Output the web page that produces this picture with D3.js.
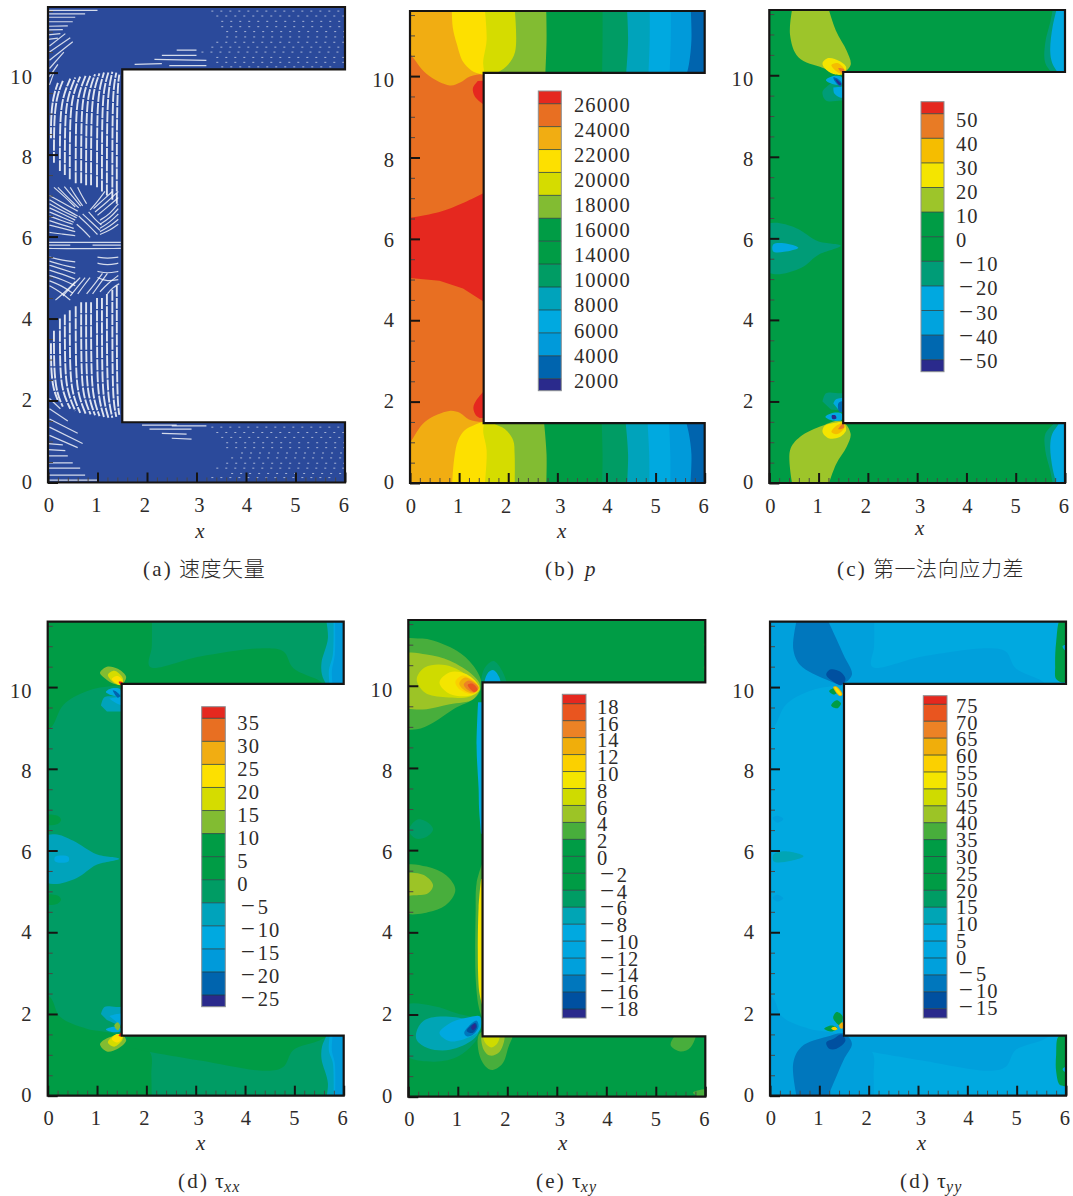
<!DOCTYPE html>
<html>
<head>
<meta charset="utf-8">
<script src="https://cdn.jsdelivr.net/npm/d3@7"></script>
<style>
body { margin: 0; background: #fff; }
svg { display: block; }
text { font-family: "Liberation Serif", serif; fill: #2e2b2a; }
</style>
</head>
<body>
<svg id="chart" width="1073" height="1196"></svg>
<script>
// channel wall, x and y in channel units
const channel = [[0,0],[6,0],[6,1.47],[1.5,1.47],[1.5,10.08],[6,10.08],[6,11.6],[0,11.6]]

const xMajor = [0,1,2,3,4,5,6]
const xMinor = [.2,.4,.6,.8,1.2,1.4,1.6,1.8,2.2,2.4,2.6,2.8,3.2,3.4,3.6,3.8,4.2,4.4,4.6,4.8,5.2,5.4,5.6,5.8]
const yMajor = [0,2,4,6,8,10]
const yMinor = [.5,1,1.5,2.5,3,3.5,4.5,5,5.5,6.5,7,7.5,8.5,9,9.5,10.5,11,11.5]
// the printed tick numbers do not sit exactly on their ticks
const xLabelNudge = [1,-1,-2,3,1,0,-1]
const yLabelNudge = [-1,-.5,0,1.5,2.5,4]

// colour bars
const pLevels = [26000,24000,22000,20000,18000,16000,14000,10000,8000,6000,4000,2000]
const n1Levels = [50,40,30,20,10,0,-10,-20,-30,-40,-50]
const txxLevels = [35,30,25,20,15,10,5,0,-5,-10,-15,-20,-25]
const txyLevels = [18,16,14,12,10,8,6,4,2,0,-2,-4,-6,-8,-10,-12,-14,-16,-18]
const tyyLevels = [75,70,65,60,55,50,45,40,35,30,25,20,15,10,5,0,-5,-10,-15]

const pColors = ["#e5281f","#e86f22","#f1ad12","#fde000","#d5dc00","#82bc32","#009c45","#009c45","#009c64","#00a3bb","#00a9e0","#009ada","#0064ae","#2a2a8c"]
const n1Colors = ["#e5281f","#e87b25","#f5bd00","#f4e500","#9dc52a","#009c45","#009c45","#009c77","#00a8e0","#00a3de","#0068b0","#2a2a8c"]
const txyColors = ["#e5281f","#e9551f","#ec8225","#f0ae0b","#fbd000","#f4e500","#cfdb00","#9cc426","#48ae3c","#009c45","#009c45","#009c45","#009c64","#00a5b5","#00a9e0","#00a6df","#00a0dc","#0077bd","#0050a0","#2a2a8c"]

// sides that close a contour outside the channel
const topArm = [[6.3,9.9],[6.3,11.9]]
const lowArm = [[6.3,1.7],[6.3,-.3]]

// contour bands: [colour index, boundary, closing points]
const pBands = [
 [0,[[-.1,6.5],[.6,6.66],[1.08,6.88],[1.7,7.25]],[[1.7,4.3],[1.08,4.78],[.6,4.97],[-.1,5.05]]],
 [0,[[1.38,9.88],[1.28,9.7],[1.32,9.5],[1.5,9.3]],[[1.7,9.3],[1.7,9.9]]],
 [0,[[1.5,2.25],[1.36,2.05],[1.29,1.85],[1.35,1.65],[1.42,1.6]],[[1.7,1.6],[1.7,2.25]]],
 [2,[[-.1,10.65],[0,10.55],[.34,10.05],[.81,9.77],[1.02,9.84],[1.22,9.99],[1.5,10.05],[1.8,10]],[[6.3,9.9],[6.3,11.9],[-.1,11.9]]],
 [3,[[.85,11.8],[.87,11.2],[.95,10.8],[1.08,10.35],[1.25,10.14],[1.47,10.04],[1.7,10]],topArm],
 [4,[[1.51,11.8],[1.56,10.9],[1.49,10.3],[1.55,10.02],[1.7,9.95]],topArm],
 [5,[[2.12,11.8],[2.14,10.6],[1.97,10.25],[1.7,10.03],[1.6,9.95]],topArm],
 [6,[[2.77,11.8],[2.78,10.9],[2.75,9.9]],topArm],
 [8,[[3.92,11.8],[3.92,10.9],[3.91,9.9]],topArm],
 [9,[[4.41,11.8],[4.44,10.9],[4.39,9.9]],topArm],
 [10,[[4.88,11.8],[4.88,10.9],[4.85,9.9]],topArm],
 [11,[[5.31,11.8],[5.31,10.9],[5.28,9.9]],topArm],
 [12,[[5.71,11.8],[5.73,10.9],[5.68,10.3],[5.6,9.9]],topArm],
 [2,[[-.1,.9],[0,1],[.3,1.5],[.8,1.77],[1.02,1.72],[1.2,1.56],[1.5,1.5],[1.8,1.6]],[[6.3,1.7],[6.3,-.3],[-.1,-.3]]],
 [3,[[.85,-.2],[.9,.6],[.98,1.05],[1.12,1.3],[1.3,1.42],[1.47,1.5],[1.7,1.6]],lowArm],
 [4,[[1.51,-.2],[1.56,.8],[1.49,1.28],[1.52,1.48],[1.6,1.6]],lowArm],
 [5,[[2.13,-.2],[2.13,.7],[2.1,1.05],[1.93,1.33],[1.7,1.47],[1.6,1.6]],lowArm],
 [6,[[2.77,-.2],[2.78,.7],[2.72,1.6]],lowArm],
 [8,[[3.91,-.2],[3.92,.7],[3.9,1.6]],lowArm],
 [9,[[4.41,-.2],[4.44,.7],[4.38,1.6]],lowArm],
 [10,[[4.87,-.2],[4.87,.7],[4.83,1.6]],lowArm],
 [11,[[5.3,-.2],[5.3,.7],[5.27,1.6]],lowArm],
 [12,[[5.7,-.2],[5.73,.7],[5.68,1.2],[5.6,1.6]],lowArm]
]

const n1Bands = [
 [4,[[.49,11.8],[.42,11],[.59,10.44],[1.09,10.18],[1.47,10.05],[1.65,10.25],[1.57,10.6],[1.35,11.1],[1.16,11.8]],[]],
 [3,[[1.08,10.3],[1.2,10.42],[1.42,10.35],[1.56,10.2],[1.5,10.03],[1.3,10.03],[1.12,10.18]]],
 [2,[[1.26,10.25],[1.38,10.3],[1.52,10.15],[1.5,10.03],[1.38,10.08]]],
 [1,[[1.4,10.17],[1.52,10.14],[1.5,10.04]]],
 [7,[[1.25,9.8],[1.08,9.6],[1.15,9.38],[1.45,9.38],[1.7,9.4]],[[1.7,9.9]]],
 [8,[[1.3,9.7],[1.32,9.55],[1.45,9.45],[1.7,9.5]],[[1.7,9.75]]],
 [8,[[1.15,9.88],[1.3,9.98],[1.47,9.95],[1.47,9.78],[1.3,9.78]]],
 [10,[[1.3,9.95],[1.38,9.92],[1.47,9.8],[1.44,9.72],[1.33,9.85]]],
 [11,[[1.34,9.9],[1.4,9.86],[1.46,9.78],[1.42,9.76]]],
 [7,[[5.78,11.8],[5.7,11.3],[5.6,10.8],[5.6,10.3],[5.78,10],[5.85,9.9]],topArm],
 [8,[[5.87,11.8],[5.75,11.2],[5.7,10.6],[5.74,10.3],[5.88,10],[5.9,9.9]],topArm],
 [7,[[-.1,6.3],[.1,6.38],[.55,6.25],[.99,5.93],[1.45,5.82],[1,5.6],[.65,5.28],[.12,5.12],[-.1,5.25]]],
 [8,[[.08,5.85],[.3,5.88],[.59,5.77],[.3,5.67],[.08,5.68]]],
 [4,[[.49,-.2],[.42,.8],[.62,1.13],[1.09,1.41],[1.47,1.52],[1.65,1.21],[1.57,.89],[1.35,.45],[1.16,-.2]],[]],
 [3,[[1.08,1.25],[1.2,1.1],[1.42,1.12],[1.56,1.3],[1.5,1.48],[1.3,1.47],[1.12,1.4]]],
 [2,[[1.26,1.25],[1.38,1.2],[1.52,1.35],[1.5,1.47],[1.38,1.42]]],
 [1,[[1.4,1.32],[1.52,1.36],[1.5,1.46]]],
 [7,[[1.08,2],[1.15,2.2],[1.45,2.2],[1.7,2.2]],[[1.7,1.75],[1.25,1.8]]],
 [8,[[1.3,1.95],[1.35,2.05],[1.7,2.1]],[[1.7,1.75],[1.4,1.8]]],
 [8,[[1.14,1.62],[1.3,1.72],[1.47,1.7],[1.47,1.55],[1.3,1.53]]],
 [10,[[1.4,1.95],[1.48,2],[1.5,1.75],[1.42,1.75]]],
 [11,[[1.27,1.66],[1.34,1.66],[1.36,1.58],[1.28,1.57]]],
 [7,[[5.78,-.2],[5.7,.3],[5.6,.8],[5.6,1.2],[5.78,1.47],[5.85,1.6]],lowArm],
 [8,[[5.87,-.2],[5.75,.35],[5.7,.9],[5.74,1.2],[5.88,1.47],[5.9,1.6]],lowArm]
]

const txxBands = [
 [6,[[-.2,9],[.05,9],[.32,9.57],[.79,9.9],[1.26,10.02],[1.48,10.02],[3,10],[5.6,10],[5.52,10.14],[4.98,10.46],[4.78,10.87],[4.44,10.95],[3.09,10.75],[2.07,10.5],[2.11,11],[2.11,11.8]],[[-.2,11.8]]],
 [6,[[-.2,2.5],[.05,2.41],[.25,1.93],[.79,1.64],[1.33,1.52],[1.48,1.4],[2.07,1.07],[2.1,.5],[2.11,-.2]],[[-.2,-.2]]],
 [6,[[2.07,1.07],[3.09,.86],[4.44,.61],[4.78,.71],[4.98,1.12],[5.52,1.36],[5.7,1.5],[5.7,1.6]],[[1.6,1.6],[1.6,1.2]]],
 [5,[[1.06,10.35],[1.2,10.5],[1.42,10.45],[1.59,10.25],[1.5,10.06],[1.3,10.1],[1.12,10.25]]],
 [4,[[1.22,10.3],[1.35,10.4],[1.52,10.22],[1.5,10.05],[1.35,10.1]]],
 [3,[[1.3,10.2],[1.42,10.27],[1.52,10.15],[1.48,10.05],[1.38,10.1]]],
 [0,[[1.44,10.13],[1.52,10.12],[1.48,10.05]]],
 [9,[[1.08,9.55],[1.15,9.75],[1.4,9.78],[1.7,9.9]],[[1.7,9.4],[1.2,9.4]]],
 [10,[[1.25,9.72],[1.4,9.6],[1.7,9.5]],[[1.7,9.8]]],
 [10,[[1.18,9.88],[1.3,9.97],[1.47,9.95],[1.47,9.78],[1.3,9.8]]],
 [12,[[1.32,9.92],[1.4,9.88],[1.47,9.78],[1.42,9.74],[1.35,9.84]]],
 [9,[[5.62,11.8],[5.68,11.2],[5.55,10.6],[5.56,10.3],[5.65,10.05],[5.7,9.9]],topArm],
 [10,[[5.79,11.8],[5.78,10.8],[5.7,10.4],[5.72,10]],topArm],
 [11,[[5.82,11.8],[5.82,10.8],[5.76,10.4],[5.78,10]],topArm],
 [9,[[-.1,6.3],[.15,6.4],[.52,6.24],[.99,5.91],[1.45,5.8],[.99,5.65],[.59,5.33],[.11,5.18],[-.1,5.3]]],
 [10,[[.15,5.85],[.42,5.85],[.42,5.73],[.15,5.73]]],
 [7,[[-.1,6.85],[.2,6.85],[.27,6.75],[.2,6.65],[-.1,6.65]]],
 [7,[[-.1,4.9],[.2,4.9],[.27,4.8],[.2,4.7],[-.1,4.7]]],
 [5,[[1.06,1.25],[1.2,1.08],[1.42,1.15],[1.59,1.35],[1.5,1.5],[1.3,1.45],[1.12,1.35]]],
 [4,[[1.22,1.3],[1.35,1.2],[1.52,1.38],[1.5,1.5],[1.35,1.48]]],
 [3,[[1.3,1.38],[1.42,1.3],[1.52,1.45],[1.48,1.5],[1.38,1.5]]],
 [0,[[1.44,1.46],[1.52,1.47],[1.48,1.54]]],
 [9,[[1.08,2.0],[1.15,2.17],[1.4,2.17],[1.7,2.2]],[[1.7,1.72],[1.45,1.72],[1.2,1.85]]],
 [10,[[1.25,1.95],[1.4,2],[1.7,2.05]],[[1.7,1.7],[1.45,1.75]]],
 [10,[[1.18,1.62],[1.3,1.68],[1.47,1.66],[1.47,1.58],[1.3,1.56]]],
 [5,[[1.35,1.72],[1.42,1.8],[1.47,1.7],[1.42,1.6]]],
 [9,[[5.62,-.2],[5.68,.3],[5.55,.9],[5.56,1.2],[5.65,1.47],[5.7,1.6]],lowArm],
 [10,[[5.79,-.2],[5.78,.8],[5.7,1.1],[5.72,1.5]],lowArm],
 [11,[[5.82,-.2],[5.82,.8],[5.76,1.1],[5.78,1.5]],lowArm]
]

const txyBands = [
 [8,[[-.1,11.1],[.2,11.15],[.44,11.12],[.98,10.85],[1.31,10.49],[1.48,10.05],[1.38,9.74],[.91,9.43],[.5,9.1],[.17,8.94],[-.1,9]]],
 [7,[[-.1,10.75],[.37,10.76],[.84,10.61],[1.31,10.25],[1.45,10],[1.31,9.67],[.84,9.55],[.37,9.43],[.1,9.43],[-.1,9.5]]],
 [6,[[.17,10.16],[.34,10.45],[.77,10.5],[1.25,10.2],[1.45,9.92],[1.25,9.74],[.75,9.72],[.34,9.83]]],
 [5,[[.63,10.08],[.84,10.33],[1.18,10.28],[1.43,9.96],[1.31,9.78],[.84,9.8]]],
 [4,[[.95,10.1],[1.1,10.25],[1.25,10.18],[1.43,9.97],[1.3,9.8],[1.05,9.9]]],
 [3,[[1.03,10.05],[1.15,10.2],[1.42,9.97],[1.33,9.82],[1.15,9.88]]],
 [2,[[1.12,10.03],[1.22,10.13],[1.42,9.95],[1.34,9.84],[1.2,9.9]]],
 [1,[[1.2,10.02],[1.3,10.05],[1.4,9.9],[1.33,9.85]]],
 [12,[[1.5,10],[1.53,10.4],[1.72,10.6],[1.9,10.35],[1.97,10]]],
 [14,[[1.55,10],[1.6,10.3],[1.72,10.38],[1.84,10.2],[1.85,10]]],
 [14,[[1.41,9.6],[1.38,8.5],[1.42,7.5],[1.43,7],[1.47,6.4]],[[1.7,6.4],[1.7,9.6]]],
 [12,[[.03,6.55],[.2,6.75],[.42,6.65],[.5,6.5],[.38,6.33],[.15,6.28],[.03,6.42]]],
 [8,[[-.1,5.6],[.37,5.6],[.77,5.38],[.95,5.04],[.81,4.72],[.5,4.52],[-.1,4.5]]],
 [7,[[-.1,5.4],[.3,5.4],[.5,5.15],[.4,4.95],[.1,4.9],[-.1,4.9]]],
 [8,[[1.5,5.7],[1.38,5.2],[1.36,4.5],[1.36,2.9],[1.42,2.2],[1.48,1.95]],[[1.7,1.9],[1.7,5.7]]],
 [5,[[1.47,5.3],[1.42,4.6],[1.41,3],[1.44,2.5],[1.5,2.2]],[[1.7,2.2],[1.7,5.3]]],
 [12,[[-.1,2.2],[.5,2.21],[.98,2.03],[1.38,1.87],[1.45,1.55],[1.04,1],[.5,.85],[-.1,1.05]]],
 [13,[[.17,1.6],[.34,1.87],[.77,1.95],[1.25,1.83],[1.42,1.59],[1.31,1.39],[.84,1.14],[.4,1.18],[.17,1.38]]],
 [14,[[.63,1.55],[.84,1.79],[1.25,1.94],[1.45,1.95],[1.45,1.63],[1.25,1.46],[.84,1.35]]],
 [17,[[1.13,1.55],[1.25,1.75],[1.38,1.85],[1.42,1.7],[1.3,1.5],[1.18,1.47]]],
 [18,[[1.18,1.6],[1.28,1.75],[1.36,1.8],[1.39,1.7],[1.3,1.55]]],
 [19,[[1.27,1.68],[1.34,1.78],[1.37,1.7],[1.31,1.62]]],
 [8,[[1.45,1.55],[1.42,1.1],[1.55,.75],[1.7,.65],[1.9,.8],[2.02,1.2],[2.1,1.55]]],
 [7,[[1.5,1.55],[1.52,1.15],[1.65,1],[1.85,1.1],[1.93,1.55]]],
 [6,[[1.52,1.55],[1.56,1.3],[1.68,1.2],[1.8,1.3],[1.84,1.55]]],
 [8,[[5.3,1.25],[5.5,1.1],[5.7,1.2],[5.8,1.55],[5.45,1.55]]],
 [8,[[5.75,.1],[6.1,.17],[6.1,-.1]]],
 [8,[[5.97,11],[6.1,11.1],[6.1,10.9]]],
 [8,[[5.97,10.45],[6.1,10.6],[6.1,10.2]]]
]

const tyyBands = [
 [16,[[-.2,9],[.05,9],[.32,9.57],[.79,9.9],[1.26,10.02],[1.48,10.02],[3,10],[5.6,10],[5.52,10.14],[4.98,10.46],[4.78,10.87],[4.44,10.95],[3.09,10.75],[2.07,10.5],[2.11,11],[2.11,11.8]],[[-.2,11.8]]],
 [16,[[-.2,2.5],[.05,2.41],[.25,1.93],[.79,1.64],[1.33,1.52],[1.48,1.4],[2.07,1.07],[2.1,.5],[2.11,-.2]],[[-.2,-.2]]],
 [16,[[2.07,1.07],[3.09,.86],[4.44,.61],[4.78,.71],[4.98,1.12],[5.52,1.36],[5.7,1.5],[5.7,1.6]],[[1.6,1.6],[1.6,1.2]]],
 [17,[[.57,11.8],[.47,10.95],[.61,10.54],[1.15,10.18],[1.45,10.07],[1.66,10.3],[1.49,10.79],[1.11,11.8]],[]],
 [18,[[1.14,10.3],[1.22,10.43],[1.42,10.38],[1.53,10.2],[1.45,10.05],[1.3,10.12]]],
 [17,[[.57,-.2],[.47,.79],[.64,1.2],[1.15,1.44],[1.49,1.52],[1.66,1.28],[1.49,.87],[1.11,-.2]],[]],
 [18,[[1.14,1.3],[1.2,1.15],[1.35,1.15],[1.53,1.35],[1.45,1.5],[1.3,1.4]]],
 [10,[[1.2,9.9],[1.3,9.97],[1.38,9.9],[1.3,9.82]]],
 [10,[[1.24,9.55],[1.35,9.68],[1.44,9.6],[1.36,9.48]]],
 [3,[[1.28,10.0],[1.34,10.02],[1.47,9.82],[1.41,9.78]]],
 [5,[[1.3,9.99],[1.33,10],[1.45,9.82],[1.42,9.8]]],
 [10,[[5.9,11.7],[5.8,11.1],[5.78,10.5],[5.8,10.2],[5.97,10.12],[6.1,10.5],[6.1,11.7]]],
 [14,[[5.93,11],[5.99,11.03],[6.05,10.96],[5.99,10.9]]],
 [10,[[5.85,1.45],[5.8,1],[5.8,.6],[5.88,.26],[6.05,.26],[6.1,.7],[6.05,1.45]]],
 [14,[[5.93,.65],[5.99,.7],[6.05,.65],[5.99,.58]]],
 [13,[[.07,5.9],[.3,5.98],[.68,5.86],[.3,5.72],[.07,5.74]]],
 [16,[[.05,6.8],[.15,6.85],[.27,6.77],[.15,6.68]]],
 [16,[[.05,4.85],[.15,4.92],[.27,4.83],[.15,4.75]]],
 [10,[[1.28,1.9],[1.35,2.05],[1.47,1.95],[1.42,1.72]]],
 [10,[[1.1,1.64],[1.25,1.72],[1.37,1.65],[1.25,1.57]]],
 [4,[[1.24,1.65],[1.31,1.69],[1.37,1.63],[1.3,1.6]]],
 [3,[[1.4,1.72],[1.47,1.8],[1.49,1.66],[1.44,1.64]]]
]

// white gaps between the velocity arrows
const gapsUpper = [
 [[.06,8.4],[.06,8.9],[.1,9.4],[.2,9.75]],
 [[.12,7.8],[.12,8.8],[.17,9.4],[.3,9.8]],
 [[.24,7.6],[.24,8.8],[.29,9.4],[.45,9.85]],
 [[.34,7.5],[.34,8.8],[.39,9.4],[.55,9.88]],
 [[.44,7.4],[.44,8.8],[.49,9.45],[.65,9.9]],
 [[.56,7.3],[.56,8.8],[.6,9.45],[.76,9.92]],
 [[.67,7.3],[.67,8.8],[.71,9.5],[.86,9.94]],
 [[.77,7.25],[.77,8.8],[.81,9.5],[.95,9.96]],
 [[.87,7.25],[.87,8.8],[.91,9.55],[1.04,9.98]],
 [[.99,7.2],[.99,8.8],[1.02,9.55],[1.13,10]],
 [[1.09,7.1],[1.09,8.8],[1.12,9.6],[1.22,10]],
 [[1.19,7],[1.19,8.8],[1.22,9.6],[1.3,10.02]],
 [[1.3,6.9],[1.3,8.8],[1.32,9.65],[1.38,10]],
 [[1.39,6.8],[1.39,8.8],[1.41,9.7],[1.44,9.95]]
]
const gapsLower = [
 [[.06,3.4],[.06,2.8],[.1,2.3],[.2,2]],
 [[.12,3.7],[.12,2.8],[.17,2.2],[.3,1.85]],
 [[.24,4],[.24,2.8],[.29,2.2],[.45,1.8]],
 [[.34,4.1],[.34,2.8],[.39,2.2],[.55,1.75]],
 [[.44,4.2],[.44,2.8],[.49,2.15],[.65,1.7]],
 [[.56,4.3],[.56,2.8],[.6,2.15],[.76,1.68]],
 [[.67,4.4],[.67,2.8],[.71,2.1],[.86,1.66]],
 [[.77,4.4],[.77,2.8],[.81,2.1],[.95,1.64]],
 [[.87,4.4],[.87,2.8],[.91,2.05],[1.04,1.62]],
 [[.99,4.5],[.99,2.8],[1.02,2.05],[1.13,1.6]],
 [[1.09,4.5],[1.09,2.8],[1.12,2],[1.22,1.58]],
 [[1.19,4.6],[1.19,2.8],[1.22,2],[1.3,1.58]],
 [[1.3,4.7],[1.3,2.8],[1.32,1.95],[1.38,1.6]],
 [[1.39,4.8],[1.39,2.8],[1.41,1.9],[1.44,1.65]]
]
const gapsCentre = [
 [[0,5.86],[.6,5.86],[1.47,5.86]], [[0,5.71],[.6,5.7],[1.47,5.71]], [[0,5.79],[.45,5.79]], [[.9,5.79],[1.47,5.79]],
 [[.03,7],[.3,6.82],[.6,6.62]], [[.03,6.9],[.3,6.7],[.6,6.5]], [[.03,6.8],[.3,6.62],[.58,6.46]], [[.03,6.7],[.3,6.55],[.55,6.4]],
 [[.03,6.6],[.3,6.46],[.52,6.35]], [[.03,6.5],[.3,6.38],[.5,6.3]], [[.03,6.39],[.3,6.28],[.52,6.2]],
 [[.03,6.28],[.3,6.2],[.55,6.12]], [[.03,6.1],[.3,6.06],[.55,6.02]], [[.12,7.2],[.33,6.98],[.55,6.72]], [[.2,7.2],[.4,6.95],[.62,6.7]],
 [[.33,7.22],[.48,7],[.66,6.74]], [[.45,7.2],[.55,7],[.7,6.75]], [[.6,7.2],[.68,7],[.78,6.8]],
 [[1.42,6.8],[1.25,6.55],[1.05,6.4]], [[1.42,6.68],[1.25,6.45],[1.05,6.3]], [[1.42,6.55],[1.25,6.35],[1.05,6.2]], [[1.42,6.42],[1.25,6.25],[1.05,6.12]],
 [[1.42,6.3],[1.25,6.15],[1.05,6.05]], [[1.42,6.95],[1.2,6.72],[1,6.52]], [[1.42,7.1],[1.2,6.85],[.95,6.6]], [[1.15,7.1],[1,6.85],[.85,6.65]], [[1.3,7.1],[1.1,6.88],[.92,6.68]],
 [[.62,6.5],[.8,6.3],[1,6.05]], [[.7,6.55],[.88,6.35],[1.05,6.15]], [[.58,6.3],[.72,6.15],[.85,5.98]], [[.82,6.6],[.95,6.42],[1.08,6.28]],
 [[.03,5.5],[.3,5.42],[.55,5.38]], [[.03,5.4],[.3,5.3],[.55,5.24]], [[.03,5.3],[.3,5.2],[.55,5.1]], [[.03,5.18],[.3,5.08],[.55,4.96]], [[.03,5.05],[.3,4.95],[.55,4.8]],
 [[.03,4.92],[.28,4.8],[.5,4.62]], [[.03,4.8],[.25,4.65],[.45,4.45]], [[.15,4.45],[.35,4.65],[.55,4.9]], [[.3,4.55],[.45,4.75],[.65,5]], [[.45,4.55],[.6,4.78],[.75,5]], [[.6,4.6],[.72,4.8],[.85,5]],
 [[1.42,5.5],[1.2,5.46],[1,5.5]], [[1.42,5.35],[1.2,5.3],[1,5.35]], [[1.42,5.15],[1.2,5.1],[1,5.15]], [[1.42,4.95],[1.2,4.9],[1,5]],
 [[1.05,4.65],[1.2,4.85],[1.42,5.05]], [[.9,4.6],[1.05,4.85],[1.2,5.1]], [[1.2,4.6],[1.3,4.75],[1.44,4.85]], [[.78,4.6],[.95,4.85],[1.1,5.1]]
]
const gapsArms = [
 [[0,11.52],[1,11.52]], [[0,11.43],[.75,11.43]], [[0,11.35],[.55,11.35]], [[0,11.24],[.5,11.24]],
 [[0,11.13],[.4,11.14]], [[0,11.04],[.3,11.05]], [[0,10.92],[.25,10.95]], [[0,10.81],[.2,10.84]],
 [[.03,10.65],[.35,10.95]], [[.03,10.5],[.45,10.85]], [[.03,10.3],[.5,10.75]], [[.03,10.1],[.32,10.5]], [[.03,9.9],[.2,10.2]],
 [[.03,9.7],[.12,10]],
 [[1.75,10.2],[2.3,10.22]], [[2.15,10.32],[3.2,10.3]], [[2.3,10.42],[3,10.42]], [[2.6,10.55],[3,10.55]], [[2.45,10.17],[3.2,10.17]],
 [[0,.06],[1,.06]], [[0,.18],[.75,.18]], [[0,.35],[.65,.35]], [[0,.48],[.5,.48]], [[0,.65],[.4,.65]], [[0,.8],[.35,.78]],
 [[0,.95],[.3,.92]], [[.03,1.15],[.6,.85]], [[.03,1.35],[.7,.95]], [[.03,1.55],[.6,1.2]], [[.03,1.8],[.4,1.5]], [[.03,2.05],[.25,1.8]],
 [[1.9,1.4],[2.6,1.4]], [[2.05,1.3],[2.9,1.3]], [[2.3,1.2],[2.8,1.18]], [[2.5,1.08],[2.9,1.06]], [[2.5,1.38],[3.2,1.38]]
]
// rows of arrow tips left white in the two arms: [y, x from, x to]
const dotRows = [
 [11.5,3.3,6],[11.38,3.4,6],[11.25,3.5,6],[11.12,3.5,6],[11,3.6,6],[10.87,3.6,6],[10.74,3.4,6],[10.62,3.3,6],[10.5,3.1,6],[10.37,3.4,6],[10.25,3.4,6],[10.14,3.5,5.8],
 [1.35,3.3,6],[1.22,3.4,6],[1.1,3.5,6],[.97,3.6,6],[.85,3.6,6],[.72,3.9,6],[.6,3.7,6],[.47,3.6,6],[.35,3.4,6],[.22,3.7,6],[.12,3.3,5.8]
]

const panels = [
 {box:[48,345,7,482.5], legend:null, xlab:[3.07,533], cap:[143,570], tag:"(a)", zh:"速度矢量"},
 {box:[410,704.7,11,483], base:1, colors:pColors, bands:pBands, levels:pLevels,
  legend:{bar:[538.3,561.3,91,390.7], edge:[103.7,378.7], lab:[105,381], x:[574,574,574]}, xlab:[3.09,533], cap:[545,570], tag:"(b)", sym:"p"},
 {box:[769.3,1065,10,483], base:5, colors:n1Colors, bands:n1Bands, levels:n1Levels,
  legend:{bar:[921,944,101.7,371.7], edge:[113.7,359.7], lab:[120,361], x:[956,959,976]}, xlab:[3.05,530], cap:[837,570], tag:"(c)", zh:"第一法向应力差"},
 {box:[47.7,343.7,621.7,1095.7], base:8, colors:pColors, bands:txxBands, levels:txxLevels,
  legend:{bar:[201.7,225.3,706.7,1006.7], edge:[718.3,995], lab:[723,999], x:[237.3,240.7,257.7]}, xlab:[3.1,1145], cap:[178,1182], tag:"(d)", tau:"xx"},
 {box:[408.3,705.3,620,1096.7], base:10, colors:txyColors, bands:txyBands, levels:txyLevels,
  legend:{bar:[562.3,586,694.3,1018], edge:[703.7,1009], lab:[707,1009.3], x:[597,600,616.7]}, xlab:[3.12,1145], cap:[536,1182], tag:"(e)", tau:"xy"},
 {box:[770,1066,621.7,1095.7], base:14, colors:txyColors, bands:tyyBands, levels:tyyLevels,
  legend:{bar:[923.3,947,695.7,1018], edge:[704.3,1008.7], lab:[706,1008.3], x:[956,958.7,976]}, xlab:[3.07,1145], cap:[900,1182], tag:"(d)", tau:"yy"}
]

const svg = d3.select("#chart")

const drawPanel = (p, i) => {
  const [x0, x6, yTop, y0] = p.box
  const x = d3.scaleLinear().domain([0, 6]).range([x0, x6])
  const y = d3.scaleLinear().domain([0, 11.6]).range([y0, yTop])
  const g = svg.append("g")

  const wall = d3.line().x(d => x(d[0])).y(d => y(d[1])).curve(d3.curveLinearClosed)
  const edge = d3.line().x(d => x(d[0])).y(d => y(d[1])).curve(d3.curveCatmullRom.alpha(.5))
  const blob = d3.line().x(d => x(d[0])).y(d => y(d[1])).curve(d3.curveCatmullRomClosed.alpha(.5))

  svg.append("clipPath").attr("id", "wall" + i).append("path").attr("d", wall(channel))
  const field = g.append("g").attr("clip-path", "url(#wall" + i + ")")

  if (p.bands) {
    field.append("path").attr("d", wall(channel)).attr("fill", p.colors[p.base])
    field.selectAll("path.band")
      .data(p.bands)
      .enter().append("path")
      .attr("class", "band")
      .attr("fill", d => p.colors[d[0]])
      .attr("d", d => {
        if (!d[2]) return blob(d[1])
        return edge(d[1]) + d[2].map(c => "L" + x(c[0]) + "," + y(c[1])).join("") + "Z"
      })
  } else {
    field.append("path").attr("d", wall(channel)).attr("fill", "#2b4a9b")
    const gaps = field.append("g").attr("fill", "none").attr("stroke", "#fff")
    const arcs = d3.line().x(d => x(d[0])).y(d => y(d[1])).curve(d3.curveBasis)
    gaps.selectAll("path.column")
      .data(gapsUpper.concat(gapsLower))
      .enter().append("path")
      .attr("class", "column")
      .attr("d", arcs)
      .attr("stroke-width", 1.9)
      .attr("stroke-dasharray", "11 1.2")
      .attr("opacity", .85)
    gaps.selectAll("path.fan")
      .data(gapsCentre.concat(gapsArms))
      .enter().append("path")
      .attr("class", "fan")
      .attr("d", arcs)
      .attr("stroke-width", 1.2)
      .attr("opacity", .8)
    gaps.selectAll("line")
      .data(dotRows)
      .enter().append("line")
      .attr("x1", d => x(d[1])).attr("x2", d => x(d[2]))
      .attr("y1", d => y(d[0])).attr("y2", d => y(d[0]))
      .attr("stroke-width", .9)
      .attr("stroke-dasharray", "2 7")
      .attr("opacity", .65)
  }

  // ticks point into the field
  const axisMajor = (ax) => {
    ax.select(".domain").remove()
    ax.selectAll("line").attr("stroke", "#161413").attr("stroke-width", 2)
    ax.selectAll("text").attr("font-size", 20.5).attr("letter-spacing", 1.1)
  }
  const axisMinor = (ax) => {
    ax.select(".domain").remove()
    ax.selectAll("text").remove()
    ax.selectAll("line").attr("stroke", "#4a4745").attr("stroke-width", 1)
  }
  g.append("g").attr("transform", "translate(0," + y0 + ")")
    .call(d3.axisBottom(x).tickValues(xMinor).tickSize(-5)).call(axisMinor)
  g.append("g").attr("transform", "translate(" + x0 + ",0)")
    .call(d3.axisLeft(y).tickValues(yMinor).tickSize(-5)).call(axisMinor)
  g.append("g").attr("transform", "translate(0," + y0 + ")")
    .call(d3.axisBottom(x).tickValues(xMajor).tickSize(-10).tickPadding(15).tickFormat(d3.format("d"))).call(axisMajor)
    .selectAll("text").attr("dx", (d, j) => xLabelNudge[j])
  g.append("g").attr("transform", "translate(" + x0 + ",0)")
    .call(d3.axisLeft(y).tickValues(yMajor).tickSize(-10).tickPadding(15).tickFormat(d3.format("d"))).call(axisMajor)
    .selectAll("text").attr("transform", (d, j) => "translate(0," + yLabelNudge[j] + ")")

  g.append("path").attr("d", wall(channel))
    .attr("fill", "none").attr("stroke", "#161413").attr("stroke-width", 2.2)

  g.append("text").text("x")
    .attr("x", x(p.xlab[0])).attr("y", p.xlab[1] + 5)
    .attr("text-anchor", "middle").attr("font-style", "italic").attr("font-size", 21)

  // caption
  const cap = g.append("text").attr("x", p.cap[0]).attr("y", p.cap[1] + 6).attr("font-size", 21)
  cap.append("tspan").text(p.tag).attr("letter-spacing", 2.2)
  if (p.zh) cap.append("tspan").text(p.zh).attr("dx", 6)
    .attr("font-family", "Noto Sans CJK SC").attr("font-size", 21).attr("font-weight", 300).attr("letter-spacing", .6)
  if (p.sym) cap.append("tspan").text(p.sym).attr("dx", 9).attr("font-style", "italic").attr("font-size", 21)
  if (p.tau) {
    cap.append("tspan").text("τ").attr("dx", 6).attr("font-size", 22)
    cap.append("tspan").text(p.tau).attr("dy", 4).attr("font-style", "italic").attr("font-size", 16).attr("letter-spacing", 1.2)
  }

  if (p.legend) drawLegend(g, p)
}

const drawLegend = (g, p) => {
  const l = p.legend
  const [bx0, bx1, bTop, bBottom] = l.bar
  const edges = p.colors.slice(1).map((c, j) => j)
  const edgeY = d3.scalePoint().domain(edges).range(l.edge)
  const labelY = d3.scalePoint().domain(p.levels).range(l.lab)
  const stops = [bTop].concat(edges.map(edgeY), bBottom)

  g.selectAll("rect.step")
    .data(p.colors)
    .enter().append("rect")
    .attr("class", "step")
    .attr("x", bx0).attr("width", bx1 - bx0)
    .attr("y", (d, j) => stops[j])
    .attr("height", (d, j) => stops[j + 1] - stops[j])
    .attr("fill", d => d)
  g.selectAll("line.sep")
    .data(edges)
    .enter().append("line")
    .attr("class", "sep")
    .attr("x1", bx0).attr("x2", bx1)
    .attr("y1", d => edgeY(d)).attr("y2", d => edgeY(d))
    .attr("stroke", "#1f3a3a").attr("stroke-width", 1).attr("opacity", .75)
  g.append("rect")
    .attr("x", bx0).attr("y", bTop)
    .attr("width", bx1 - bx0).attr("height", bBottom - bTop)
    .attr("fill", "none").attr("stroke", "#8b8f92").attr("stroke-width", 1)

  const labels = g.selectAll("text.lvl")
    .data(p.levels)
    .enter().append("text")
    .attr("class", "lvl")
    .attr("y", d => labelY(d))
    .attr("dy", ".33em")
    .attr("font-size", 20.5)
    .attr("letter-spacing", 1.1)
  labels.filter(d => d < 0).append("tspan").text("−").attr("x", l.x[1]).attr("font-size", 25)
  labels.append("tspan").text(d => Math.abs(d)).attr("x", d => d < 0 ? l.x[2] : l.x[0])
}

panels.forEach(drawPanel)
</script>
</body>
</html>
